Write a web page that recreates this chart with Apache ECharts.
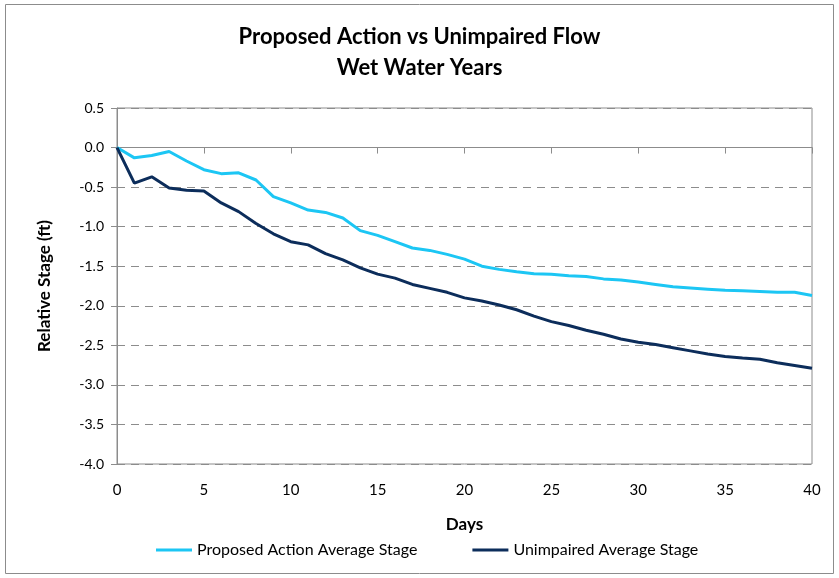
<!DOCTYPE html>
<html>
<head>
<meta charset="utf-8">
<script src="https://cdn.jsdelivr.net/npm/echarts@6/dist/echarts.min.js"></script>
<style>
  html, body { margin: 0; padding: 0; background: #fff; }
  #chart { width: 839px; height: 578px; }
</style>
</head>
<body>
<div id="chart"></div>
<script>
  // days 0..40
  var days = [];
  for (var i = 0; i <= 40; i++) days.push(i);

  var proposedStage = [0, -0.13, -0.10, -0.05, -0.17, -0.28, -0.33, -0.32, -0.41, -0.62,
    -0.70, -0.79, -0.82, -0.89, -1.05, -1.11, -1.19, -1.27, -1.30, -1.35,
    -1.41, -1.50, -1.54, -1.57, -1.595, -1.60, -1.62, -1.63, -1.66, -1.675,
    -1.70, -1.73, -1.76, -1.775, -1.79, -1.805, -1.81, -1.82, -1.83, -1.83, -1.87];

  var unimpairedStage = [0, -0.45, -0.37, -0.51, -0.54, -0.55, -0.70, -0.81, -0.96, -1.09,
    -1.19, -1.23, -1.34, -1.42, -1.52, -1.60, -1.65, -1.73, -1.78, -1.83,
    -1.90, -1.94, -1.99, -2.05, -2.13, -2.20, -2.25, -2.31, -2.36, -2.42,
    -2.46, -2.49, -2.53, -2.57, -2.61, -2.64, -2.66, -2.675, -2.72, -2.755, -2.79];

  var seriesNames = ['Proposed Action Average Stage', 'Unimpaired Average Stage'];
  var colors = ['#1cc6f4', '#0c2d5b'];

  function pairs(vals) {
    return vals.map(function (v, k) { return [days[k], v]; });
  }

  var font = 'Lato, "Open Sans", sans-serif';
  var chart = echarts.init(document.getElementById('chart'));
  chart.setOption({
    animation: false,
    color: colors,
    graphic: [{
      type: 'rect',
      shape: { x: 5.5, y: 4.5, width: 828, height: 569 },
      style: { fill: 'none', stroke: '#8c8c8c', lineWidth: 1 }
    }],
    title: {
      text: 'Proposed Action vs Unimpaired Flow\nWet Water Years',
      left: 'center',
      top: 16,
      textStyle: { fontFamily: font, fontSize: 22, fontWeight: 'bold', color: '#000', lineHeight: 31 }
    },
    legend: {
      bottom: 15,
      left: 151,
      itemGap: 55,
      itemWidth: 36,
      itemHeight: 3,
      icon: 'rect',
      textStyle: { fontFamily: font, fontSize: 16, color: '#000' },
      data: seriesNames
    },
    grid: { left: 117, right: 27, top: 108, bottom: 114, show: true, borderColor: '#8c8c8c', borderWidth: 1 },
    xAxis: {
      type: 'value',
      min: 0, max: 40, interval: 5,
      name: 'Days',
      nameLocation: 'middle',
      nameGap: 52,
      nameTextStyle: { fontFamily: font, fontSize: 17, fontWeight: 'bold', color: '#000' },
      axisLine: { show: true, lineStyle: { color: '#8c8c8c', width: 1 } },
      axisTick: { show: true, length: 6, lineStyle: { color: '#8c8c8c' } },
      axisLabel: { fontFamily: font, fontSize: 15, color: '#000', margin: 19 },
      splitLine: { show: false }
    },
    yAxis: {
      type: 'value',
      min: -4, max: 0.5, interval: 0.5,
      name: 'Relative Stage (ft)',
      nameLocation: 'middle',
      nameGap: 64,
      nameTextStyle: { fontFamily: font, fontSize: 17, fontWeight: 'bold', color: '#000' },
      axisLine: { show: true, lineStyle: { color: '#8c8c8c', width: 1 } },
      axisTick: { show: true, length: 6, lineStyle: { color: '#8c8c8c' } },
      axisLabel: {
        fontFamily: font, fontSize: 14, color: '#000', margin: 13,
        formatter: function (v) { return v.toFixed(1); }
      },
      splitLine: { show: true, lineStyle: { color: '#8c8c8c', type: [8, 6], width: 1 } }
    },
    series: [{
      name: seriesNames[0],
      type: 'line',
      data: pairs(proposedStage),
      symbol: 'none',
      lineStyle: { width: 3, color: colors[0] }
    }, {
      name: seriesNames[1],
      type: 'line',
      data: pairs(unimpairedStage),
      symbol: 'none',
      lineStyle: { width: 3, color: colors[1] }
    }]
  });
</script>
</body>
</html>
